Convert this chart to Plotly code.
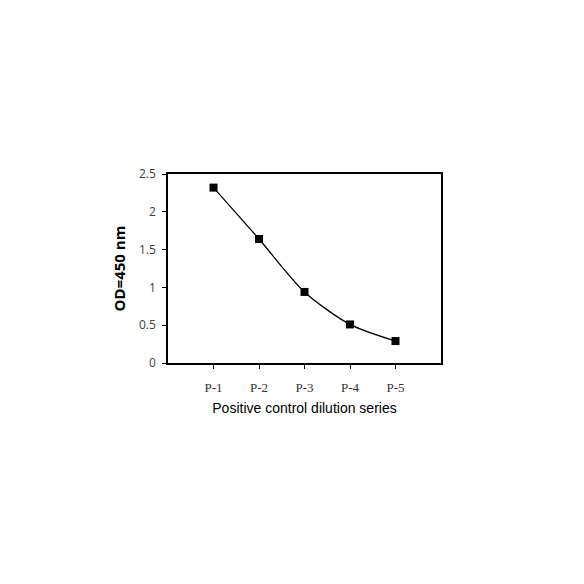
import plotly.graph_objects as go

dilutions = ["P-1", "P-2", "P-3", "P-4", "P-5"]
od_values = [2.32, 1.64, 0.94, 0.51, 0.29]
y_ticks = [0, 0.5, 1, 1.5, 2, 2.5]
y_tick_labels = ["0", "0.5", "1", "1.5", "2", "2.5"]

fig = go.Figure()
fig.add_trace(
	go.Scatter(
		x=dilutions,
		y=od_values,
		mode="lines+markers",
		line={"color": "black", "width": 1.3, "shape": "spline", "smoothing": 0.8},
		marker={"symbol": "square", "size": 8, "color": "black"},
		showlegend=False,
	)
)

# page body has an 8px margin, so the figure is a little smaller than the window
fig.update_layout(
	width=568,
	height=568,
	paper_bgcolor="white",
	plot_bgcolor="white",
	margin={"l": 160, "r": 135, "t": 166, "b": 213, "pad": 0},
	font={"family": "Liberation Sans, Arial, sans-serif", "color": "black"},
)
fig.update_xaxes(
	type="category",
	range=[-1, 5],
	showline=True,
	linecolor="black",
	linewidth=1.5,
	mirror=True,
	ticks="outside",
	ticklen=4,
	tickcolor="black",
	showgrid=False,
	zeroline=False,
	ticklabelstandoff=8,
	tickfont={"family": "Liberation Serif, Times New Roman, serif", "size": 13, "color": "#333333"},
	title={
		"text": "Positive control dilution series",
		"font": {"family": "Liberation Sans, Arial, sans-serif", "size": 14, "color": "black"},
		"standoff": 9,
	},
)
fig.update_yaxes(
	range=[0, 2.5],
	tickvals=y_ticks,
	ticktext=y_tick_labels,
	showline=True,
	linecolor="black",
	linewidth=1.5,
	mirror=True,
	ticks="outside",
	ticklen=4,
	tickcolor="black",
	showgrid=False,
	zeroline=False,
	ticklabelstandoff=4,
	tickfont={"family": "Open Sans, Liberation Sans, sans-serif", "size": 12, "color": "#404040"},
	title={
		"text": "<b>OD=450 nm</b>",
		"font": {"family": "Open Sans, Liberation Sans, sans-serif", "size": 15, "color": "black"},
		"standoff": 10,
	},
)

fig.write_html("out.html")
